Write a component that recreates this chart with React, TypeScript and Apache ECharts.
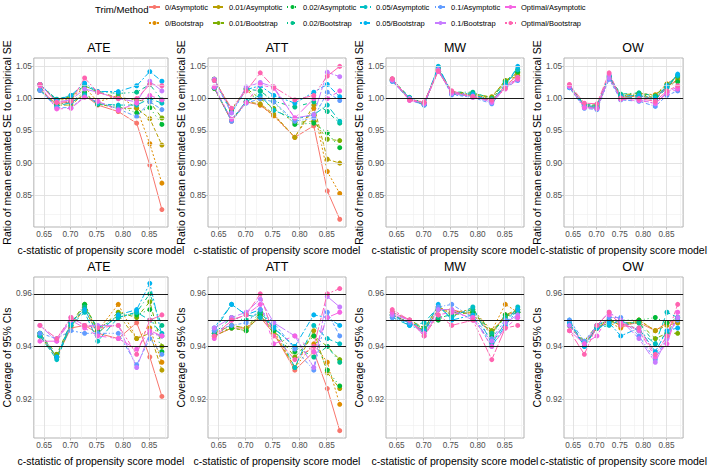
import React, { useEffect, useRef } from "react";
import * as echarts from "echarts";

const cstat = [0.642, 0.674, 0.701, 0.727, 0.752, 0.791, 0.826, 0.851, 0.874];

const seriesNames = [
  "0/Asymptotic", "0/Bootstrap",
  "0.01/Asymptotic", "0.01/Bootstrap",
  "0.02/Asymptotic", "0.02/Bootstrap",
  "0.05/Asymptotic", "0.05/Bootstrap",
  "0.1/Asymptotic", "0.1/Bootstrap",
  "Optimal/Asymptotic", "Optimal/Bootstrap",
];

const colors = [
  "#F8766D", "#DE8C00", "#B79F00", "#7CAE00", "#00BA38", "#00C08B",
  "#00BFC4", "#00B4F0", "#619CFF", "#C77CFF", "#F564E3", "#FF64B0",
];

const dashes: any[] = [
  "solid", [2, 2], [4, 2], [4, 4], [1, 3], [1, 3, 4, 3], [7, 3], [2, 2, 6, 2],
  [1, 2, 2, 2, 3, 2, 4, 2], [15, 2, 8, 2], [15, 4, 4, 4, 8, 4, 4, 4], [2, 2, 4, 2, 8, 2, 15, 2],
];

const estimands = ["ATE", "ATT", "MW", "OW"];

// Ratio of mean estimated SE to empirical SE
const seATE = [
  [1.013, 0.992, 0.995, 1.005, 0.99, 0.98, 0.962, 0.897, 0.828],
  [1.022, 0.997, 1.0, 1.018, 0.995, 1.005, 0.985, 0.93, 0.869],
  [1.014, 0.99, 0.99, 1.008, 0.992, 0.985, 0.985, 0.969, 0.928],
  [1.022, 0.998, 1.003, 1.02, 1.01, 1.002, 0.998, 0.995, 0.97],
  [1.014, 0.99, 0.995, 1.01, 0.991, 0.988, 0.978, 0.986, 0.96],
  [1.022, 0.999, 1.005, 1.02, 1.011, 1.008, 1.01, 1.022, 0.998],
  [1.013, 0.988, 0.994, 1.006, 0.992, 0.99, 0.99, 1.0, 0.993],
  [1.022, 0.998, 1.005, 1.024, 1.011, 1.011, 1.02, 1.042, 1.027],
  [1.013, 0.986, 0.986, 1.003, 0.995, 0.984, 0.972, 0.995, 0.983],
  [1.022, 0.995, 0.998, 1.015, 1.01, 1.0, 0.995, 1.027, 1.012],
  [1.02, 0.984, 0.985, 1.002, 0.996, 0.982, 0.993, 1.005, 0.998],
  [1.022, 0.994, 0.996, 1.032, 1.01, 1.0, 1.0, 1.022, 1.02],
];
const seATT = [
  [1.016, 0.965, 0.995, 0.99, 0.974, 0.94, 0.958, 0.857, 0.813],
  [1.03, 0.983, 1.015, 0.99, 0.973, 0.94, 0.985, 0.887, 0.853],
  [1.016, 0.966, 0.995, 0.992, 0.976, 0.94, 0.99, 0.906, 0.9],
  [1.03, 0.982, 1.016, 1.0, 0.985, 0.963, 0.965, 0.937, 0.935],
  [1.016, 0.967, 0.995, 1.012, 0.995, 0.96, 0.962, 0.947, 0.924],
  [1.03, 0.98, 1.015, 1.012, 0.996, 0.987, 0.995, 0.98, 0.962],
  [1.017, 0.967, 0.996, 1.005, 0.982, 0.968, 0.975, 0.99, 0.965],
  [1.028, 0.978, 1.014, 1.02, 1.005, 0.993, 1.01, 1.022, 1.003],
  [1.017, 0.965, 0.993, 1.0, 0.995, 0.965, 0.97, 1.01, 0.997],
  [1.03, 0.978, 1.018, 1.025, 1.018, 0.97, 0.975, 1.041, 1.034],
  [1.018, 0.968, 0.994, 1.022, 1.016, 0.97, 1.0, 1.0, 1.012],
  [1.028, 0.985, 1.012, 1.04, 1.018, 0.998, 1.005, 1.035, 1.05],
];
const seMW = [
  [1.028, 0.999, 0.992, 1.043, 1.008, 1.004, 0.997, 1.02, 1.036],
  [1.03, 1.0, 0.993, 1.044, 1.01, 1.006, 1.0, 1.026, 1.04],
  [1.029, 0.999, 0.991, 1.045, 1.009, 1.005, 1.003, 1.028, 1.035],
  [1.03, 1.001, 0.993, 1.046, 1.011, 1.008, 1.002, 1.028, 1.04],
  [1.028, 0.999, 0.991, 1.047, 1.008, 1.006, 0.999, 1.025, 1.042],
  [1.03, 1.002, 0.993, 1.049, 1.01, 1.01, 1.0, 1.026, 1.045],
  [1.027, 0.999, 0.99, 1.05, 1.007, 1.004, 0.996, 1.022, 1.045],
  [1.028, 1.001, 0.991, 1.049, 1.009, 1.007, 0.995, 1.02, 1.05],
  [1.027, 0.998, 0.99, 1.044, 1.006, 1.002, 0.992, 1.017, 1.028],
  [1.029, 1.0, 0.992, 1.045, 1.008, 1.004, 0.994, 1.018, 1.033],
  [1.029, 0.997, 0.993, 1.042, 1.01, 1.002, 0.996, 1.015, 1.03],
  [1.031, 0.998, 0.995, 1.043, 1.012, 1.003, 0.998, 1.016, 1.032],
];
const seOW = [
  [1.018, 0.988, 0.986, 1.032, 1.002, 1.004, 1.0, 1.018, 1.03],
  [1.02, 0.99, 0.988, 1.034, 1.005, 1.008, 1.006, 1.023, 1.035],
  [1.018, 0.988, 0.986, 1.032, 1.003, 1.005, 1.002, 1.02, 1.028],
  [1.02, 0.99, 0.99, 1.034, 1.006, 1.008, 1.005, 1.022, 1.033],
  [1.018, 0.988, 0.986, 1.033, 1.004, 1.006, 1.003, 1.019, 1.026],
  [1.02, 0.991, 0.99, 1.035, 1.007, 1.009, 1.004, 1.021, 1.035],
  [1.017, 0.987, 0.985, 1.034, 1.0, 1.003, 0.998, 1.017, 1.036],
  [1.019, 0.989, 0.988, 1.036, 1.004, 1.005, 1.0, 1.02, 1.038],
  [1.017, 0.985, 0.983, 1.03, 0.998, 0.996, 0.988, 1.005, 1.012],
  [1.019, 0.987, 0.985, 1.032, 1.0, 0.999, 0.992, 1.01, 1.018],
  [1.02, 0.986, 0.985, 1.038, 0.999, 0.997, 0.993, 1.008, 1.015],
  [1.022, 0.993, 0.992, 1.04, 1.001, 1.0, 0.996, 1.012, 1.02],
];

// Coverage of 95% CIs
const covATE = [
  [0.944, 0.936, 0.947, 0.948, 0.945, 0.943, 0.949, 0.936, 0.921],
  [0.945, 0.936, 0.949, 0.955, 0.946, 0.956, 0.943, 0.947, 0.934],
  [0.944, 0.936, 0.948, 0.954, 0.945, 0.952, 0.943, 0.945, 0.931],
  [0.945, 0.937, 0.949, 0.956, 0.946, 0.953, 0.951, 0.957, 0.94],
  [0.944, 0.936, 0.948, 0.956, 0.946, 0.952, 0.952, 0.954, 0.938],
  [0.945, 0.936, 0.949, 0.955, 0.947, 0.951, 0.953, 0.96, 0.948],
  [0.944, 0.935, 0.948, 0.953, 0.942, 0.951, 0.953, 0.95, 0.945],
  [0.945, 0.936, 0.949, 0.954, 0.945, 0.952, 0.954, 0.964, 0.944],
  [0.945, 0.943, 0.946, 0.945, 0.945, 0.945, 0.933, 0.943, 0.937],
  [0.948, 0.942, 0.951, 0.948, 0.948, 0.948, 0.932, 0.945, 0.944],
  [0.942, 0.942, 0.95, 0.947, 0.944, 0.943, 0.939, 0.946, 0.944],
  [0.948, 0.943, 0.951, 0.948, 0.947, 0.948, 0.937, 0.95, 0.952],
];
const covATT = [
  [0.944, 0.947, 0.947, 0.951, 0.945, 0.931, 0.938, 0.924, 0.908],
  [0.945, 0.948, 0.947, 0.952, 0.946, 0.932, 0.941, 0.934, 0.918],
  [0.944, 0.947, 0.946, 0.952, 0.945, 0.932, 0.946, 0.93, 0.924],
  [0.945, 0.948, 0.947, 0.953, 0.946, 0.936, 0.944, 0.94, 0.935],
  [0.945, 0.947, 0.946, 0.952, 0.946, 0.938, 0.944, 0.931, 0.925],
  [0.945, 0.951, 0.95, 0.953, 0.947, 0.94, 0.936, 0.94, 0.934],
  [0.946, 0.956, 0.952, 0.951, 0.948, 0.932, 0.948, 0.943, 0.941],
  [0.947, 0.956, 0.952, 0.954, 0.947, 0.94, 0.952, 0.951, 0.948],
  [0.946, 0.948, 0.949, 0.954, 0.949, 0.939, 0.931, 0.953, 0.944],
  [0.947, 0.951, 0.953, 0.958, 0.949, 0.944, 0.932, 0.959, 0.955],
  [0.943, 0.95, 0.952, 0.956, 0.941, 0.944, 0.938, 0.951, 0.953],
  [0.944, 0.95, 0.952, 0.96, 0.944, 0.935, 0.94, 0.96, 0.962],
];
const covMW = [
  [0.952, 0.949, 0.946, 0.954, 0.954, 0.952, 0.945, 0.952, 0.953],
  [0.953, 0.95, 0.947, 0.955, 0.953, 0.954, 0.946, 0.956, 0.953],
  [0.952, 0.949, 0.946, 0.954, 0.953, 0.953, 0.945, 0.952, 0.954],
  [0.953, 0.95, 0.947, 0.955, 0.952, 0.953, 0.946, 0.951, 0.954],
  [0.952, 0.949, 0.946, 0.95, 0.953, 0.953, 0.944, 0.952, 0.953],
  [0.952, 0.949, 0.947, 0.951, 0.952, 0.954, 0.945, 0.951, 0.953],
  [0.951, 0.948, 0.949, 0.955, 0.951, 0.955, 0.941, 0.949, 0.955],
  [0.952, 0.948, 0.946, 0.956, 0.95, 0.952, 0.94, 0.948, 0.954],
  [0.951, 0.949, 0.945, 0.955, 0.956, 0.951, 0.943, 0.95, 0.951],
  [0.952, 0.95, 0.944, 0.954, 0.954, 0.95, 0.942, 0.949, 0.952],
  [0.953, 0.95, 0.945, 0.952, 0.953, 0.951, 0.94, 0.947, 0.951],
  [0.954, 0.95, 0.944, 0.952, 0.948, 0.95, 0.935, 0.947, 0.948],
];
const covOW = [
  [0.948, 0.941, 0.947, 0.95, 0.948, 0.949, 0.946, 0.949, 0.95],
  [0.948, 0.941, 0.947, 0.949, 0.947, 0.95, 0.946, 0.949, 0.949],
  [0.948, 0.941, 0.947, 0.95, 0.948, 0.95, 0.946, 0.948, 0.949],
  [0.948, 0.942, 0.948, 0.95, 0.949, 0.949, 0.943, 0.945, 0.945],
  [0.948, 0.941, 0.947, 0.949, 0.95, 0.95, 0.951, 0.949, 0.951],
  [0.948, 0.941, 0.948, 0.95, 0.949, 0.949, 0.941, 0.945, 0.951],
  [0.95, 0.94, 0.947, 0.948, 0.95, 0.946, 0.941, 0.953, 0.951],
  [0.949, 0.94, 0.947, 0.949, 0.944, 0.947, 0.938, 0.946, 0.947],
  [0.95, 0.942, 0.948, 0.951, 0.951, 0.944, 0.935, 0.944, 0.95],
  [0.948, 0.941, 0.948, 0.953, 0.95, 0.943, 0.934, 0.943, 0.951],
  [0.946, 0.941, 0.944, 0.952, 0.949, 0.946, 0.936, 0.941, 0.953],
  [0.946, 0.937, 0.948, 0.953, 0.948, 0.947, 0.937, 0.944, 0.956],
];

const seData = [seATE, seATT, seMW, seOW];
const covData = [covATE, covATT, covMW, covOW];

const xTicks = [0.65, 0.7, 0.75, 0.8, 0.85];
const xMinor = [0.675, 0.725, 0.775, 0.825, 0.875];
const seTicks = [0.85, 0.9, 0.95, 1.0, 1.05];
const seMinor = [0.825, 0.875, 0.925, 0.975, 1.025];
const covTicks = [0.92, 0.94, 0.96];
const covMinor = [0.91, 0.93, 0.95];
const seRefLines = [1.0];
const covRefLines = [0.9365, 0.95, 0.9635];

const FONT = "Liberation Sans, Arial, Helvetica, sans-serif";

export default function App() {
  const ref = useRef<HTMLDivElement>(null);
  useEffect(() => {
    if (!ref.current) return;
    const chart = echarts.init(ref.current, null, { renderer: "svg" });

    const grids: any[] = [];
    const xAxes: any[] = [];
    const yAxes: any[] = [];
    const series: any[] = [];
    const graphics: any[] = [];

    const rows = [
      { top: 58, height: 169, min: 0.801, max: 1.063, ticks: seTicks, minor: seMinor, refs: seRefLines, data: seData, yName: "Ratio of mean estimated SE to empirical SE" },
      { top: 277, height: 167, min: 0.9052, max: 0.9664, ticks: covTicks, minor: covMinor, refs: covRefLines, data: covData, yName: "Coverage of 95% CIs" },
    ];

    const majorStyle = { color: "#E0E0E0", width: 0.9, type: "solid" };
    const minorStyle = { color: "#EEEEEE", width: 0.6, type: "solid" };

    rows.forEach((row, r) => {
      estimands.forEach((est, c) => {
        const g = grids.length;
        const left = 30 + c * 178;
        const width = 138;
        grids.push({
          left, top: row.top, width, height: row.height,
          show: true, borderColor: "#B3B3B3", borderWidth: 1, backgroundColor: "#FFFFFF",
        });
        xAxes.push({
          type: "value", gridIndex: g, min: 0.6304, max: 0.8856,
          axisLine: { show: false },
          axisTick: { show: true, length: 2.5, lineStyle: { color: "#B3B3B3", width: 0.8 }, customValues: xTicks },
          axisLabel: { customValues: xTicks, color: "#4D4D4D", fontSize: 8.2, fontFamily: FONT, margin: 3, formatter: (v: number) => v.toFixed(2) },
          splitLine: { show: false },
          name: "c-statistic of propensity score model",
          nameLocation: "middle", nameGap: 17,
          nameTextStyle: { color: "#000", fontSize: 10.5, fontFamily: FONT },
        });
        yAxes.push({
          type: "value", gridIndex: g, min: row.min, max: row.max,
          axisLine: { show: false },
          axisTick: { show: true, length: 2.5, lineStyle: { color: "#B3B3B3", width: 0.8 }, customValues: row.ticks },
          axisLabel: { customValues: row.ticks, color: "#4D4D4D", fontSize: 8.2, fontFamily: FONT, margin: 2, formatter: (v: number) => v.toFixed(2) },
          splitLine: { show: false },
          name: row.yName,
          nameLocation: "middle", nameGap: 19,
          nameTextStyle: { color: "#000", fontSize: 10.5, fontFamily: FONT },
        });
        // grid lines
        series.push({
          type: "line", xAxisIndex: g, yAxisIndex: g, data: [], silent: true, z: 1,
          markLine: {
            silent: true, symbol: ["none", "none"], label: { show: false }, animation: false,
            emphasis: { disabled: true },
            data: [
              ...xMinor.map((v) => ({ xAxis: v, lineStyle: minorStyle })),
              ...row.minor.map((v) => ({ yAxis: v, lineStyle: minorStyle })),
              ...xTicks.map((v) => ({ xAxis: v, lineStyle: majorStyle })),
              ...row.ticks.map((v) => ({ yAxis: v, lineStyle: majorStyle })),
            ],
          },
        });
        // reference lines
        series.push({
          type: "line", xAxisIndex: g, yAxisIndex: g, data: [], silent: true, z: 2,
          markLine: {
            silent: true, symbol: ["none", "none"], label: { show: false }, animation: false,
            emphasis: { disabled: true },
            data: row.refs.map((v) => ({ yAxis: v, lineStyle: { color: "#1A1A1A", width: 1.2, type: "solid" } })),
          },
        });
        const panel = row.data[c];
        panel.forEach((vals, s) => {
          series.push({
            name: seriesNames[s], type: "line", xAxisIndex: g, yAxisIndex: g, z: 3,
            data: cstat.map((x, i) => [x, vals[i]]),
            symbol: "circle", symbolSize: 5, showSymbol: true,
            lineStyle: { color: colors[s], width: 1, type: dashes[s] },
            itemStyle: { color: colors[s] },
            emphasis: { disabled: true },
          });
        });
        graphics.push({
          type: "text", x: left + width / 2, y: row.top - 10,
          style: { text: est, align: "center", verticalAlign: "middle", fontSize: 12.5, fill: "#000", fontFamily: FONT },
        });
      });
    });

    graphics.push({
      type: "text", x: 95, y: 9,
      style: { text: "Trim/Method", align: "left", verticalAlign: "middle", fontSize: 9.6, fill: "#000", fontFamily: FONT },
    });

    const legendLefts = [148, 212, 286, 359, 434, 504];
    const legends = legendLefts.map((l, i) => ({
      orient: "vertical", left: l, top: 2, padding: 0, itemWidth: 11, itemHeight: 5, itemGap: 6,
      data: [seriesNames[i * 2], seriesNames[i * 2 + 1]],
      textStyle: { fontSize: 7.5, color: "#000", fontFamily: FONT, lineHeight: 10, height: 10 },
      selectedMode: false,
    }));

    chart.setOption({
      animation: false,
      backgroundColor: "#FFFFFF",
      grid: grids,
      xAxis: xAxes,
      yAxis: yAxes,
      series,
      legend: legends,
      graphic: graphics,
    });
    return () => chart.dispose();
  }, []);
  return <div ref={ref} style={{ position: "fixed", left: 0, top: 0, width: 709, height: 467 }} />;
}
